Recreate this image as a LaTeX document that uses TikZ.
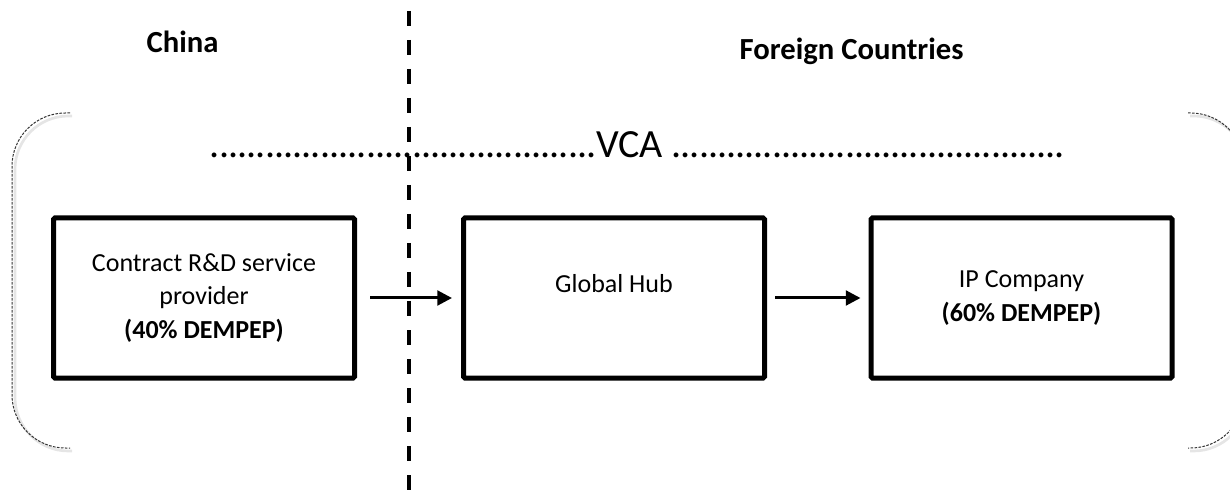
\documentclass[tikz,border=0pt]{standalone}
\usepackage{fontspec}
\setmainfont{Carlito}
\usetikzlibrary{arrows.meta}

\newcommand\boxfont{\fontsize{19.5}{25}\selectfont}
\newcommand\titlefont{\fontsize{23}{27}\selectfont\bfseries}
\newcommand\vcafont{\fontsize{30}{36}\selectfont}
\newcommand\dotrow[1]{\hbox to #1{\xleaders\hbox to 6.75pt{\hss.\hss}\hfill}}

\tikzset{
  box/.style={draw, line width=3.75pt, minimum width=225.75pt, minimum height=120pt,
    align=center, font=\boxfont, rounded corners=1pt},
  flow/.style={line width=2.25pt, -{Triangle[length=11pt,width=11pt]}},
  brace/.style={line width=0.75pt, black!80, dash pattern=on 2pt off 1pt, rounded corners=40pt},
  braceshade/.style={line width=2pt, black!10, rounded corners=40pt},
  border/.style={line width=3pt, dash pattern=on 11pt off 10.75pt},
}

\begin{document}
\begin{tikzpicture}[x=0.75pt, y=-0.75pt]
    \useasboundingbox (0,0) rectangle (1230,491);
    \clip (0,0) rectangle (1230,491);

    % border between the countries
    \coordinate (bordertop) at (409,11);
    \coordinate (borderbot) at (409,491);
    \draw[border] (bordertop) -- (borderbot);

    % titles
    \node[anchor=base west, font=\titlefont] (china) at (142,53) {China};
    \node[anchor=base west, font=\titlefont] (foreign) at (735,60) {Foreign Countries};

    % VCA line
    \node[anchor=base west, font=\vcafont, inner sep=0pt] (vca) at (210,158)
        {\dotrow{290pt}VCA \dotrow{295pt}};

    % brackets
    \draw[braceshade] (72,116) -- (15,116) -- (15,451) -- (72,451);
    \draw[braceshade] (1190,116) -- (1247,116) -- (1247,451) -- (1190,451);
    \draw[brace] (70,113) -- (12,113) -- (12,448) -- (70,448);
    \draw[brace] (1188,113) -- (1244,113) -- (1244,448) -- (1188,448);

    % boxes
    \node[box] (crd) at (204,298) {Contract R\&D service\\provider\\\textbf{(40\% DEMPEP)}};
    \node[box, text depth=22pt] (hub) at (614,298) {Global Hub};
    \node[box] (ipco) at (1021.5,298) {IP Company\\\textbf{(60\% DEMPEP)}};

    \draw[flow, shorten <=9.75pt, shorten >=6.75pt] (crd) -- (hub);
    \draw[flow, shorten <=6pt, shorten >=6pt] (hub) -- (ipco);
\end{tikzpicture}
\end{document}
